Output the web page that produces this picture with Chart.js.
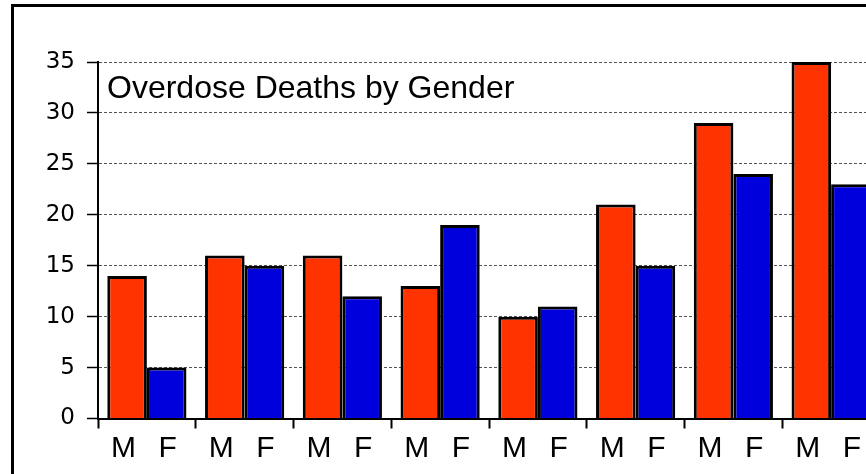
<!DOCTYPE html>
<html>
<head>
<meta charset="utf-8">
<script src="https://cdn.jsdelivr.net/npm/chart.js@4/dist/chart.umd.min.js"></script>
<style>
    html, body { margin: 0; padding: 0; background: #fff; overflow: hidden; }
    #wrap { position: relative; width: 866px; height: 474px; overflow: hidden; }
    #frame { position: absolute; left: 11px; top: 4px; width: 900px; height: 500px;
             border-left: 3px solid #000; border-top: 3px solid #000; }
    #chart { position: absolute; left: 0; top: 0; }
</style>
</head>
<body>
<div id="wrap">
    <div id="frame"></div>
    <canvas id="chart" width="880" height="474"></canvas>
</div>
<script>
// Datos
const groupLabel = 'M  \u2009F\u2009';
const groups = [groupLabel, groupLabel, groupLabel, groupLabel, groupLabel, groupLabel, groupLabel, groupLabel];
const male = [14, 16, 16, 13, 10, 21, 29, 35];
const female = [5, 15, 12, 19, 11, 15, 24, 23];
const yTicks = [0, 5, 10, 15, 20, 25, 30, 35];
const chartTitle = 'Overdose Deaths by Gender';

// título dentro del área del gráfico
const innerTitle = {
    id: 'innerTitle',
    afterDraw(chart) {
        const { ctx, chartArea } = chart;
        ctx.save();
        ctx.font = '32px "Liberation Sans", Arial, sans-serif';
        ctx.fillStyle = '#000';
        ctx.textAlign = 'left';
        ctx.textBaseline = 'alphabetic';
        ctx.fillText(chartTitle, chartArea.left + 9, chartArea.top + 36);
        ctx.restore();
    }
};

const ctx = document.getElementById('chart').getContext('2d');
new Chart(ctx, {
    type: 'bar',
    data: {
        labels: groups,
        datasets: [
            { label: 'M', data: male, backgroundColor: '#ff3300', borderColor: '#000', borderWidth: 3 },
            { label: 'F', data: female, backgroundColor: '#0000dd', borderColor: '#000', borderWidth: 3 }
        ]
    },
    options: {
        responsive: false,
        animation: false,
        devicePixelRatio: 1,
        layout: { padding: { top: 62, left: 0, right: 0, bottom: 0 } },
        datasets: { bar: { categoryPercentage: 0.81, barPercentage: 1.0 } },
        plugins: {
            legend: { display: false },
            tooltip: { enabled: false }
        },
        scales: {
            x: {
                afterFit: s => { s.height = 55.5; },
                grid: {
                    display: true, drawOnChartArea: false, drawTicks: true,
                    tickLength: 10, tickColor: '#000', tickWidth: 2, offset: true
                },
                border: { display: true, color: '#000', width: 2 },
                ticks: {
                    color: '#000', padding: 2, maxRotation: 0, autoSkip: false,
                    font: { family: '"Liberation Sans", Arial, sans-serif', size: 30 }
                }
            },
            y: {
                min: 0, max: 35,
                afterFit: s => { s.width = 98; },
                afterBuildTicks: s => { s.ticks = yTicks.map(v => ({ value: v })); },
                grid: {
                    color: '#555', lineWidth: 1, drawTicks: true,
                    tickLength: 11, tickColor: '#000', tickWidth: 1.5, tickBorderDash: []
                },
                border: { display: true, color: '#000', width: 2, dash: [3, 2] },
                ticks: {
                    color: '#000', padding: 12,
                    font: { family: '"DejaVu Sans", Verdana, sans-serif', size: 23 }
                }
            }
        }
    },
    plugins: [innerTitle]
});
</script>
</body>
</html>
